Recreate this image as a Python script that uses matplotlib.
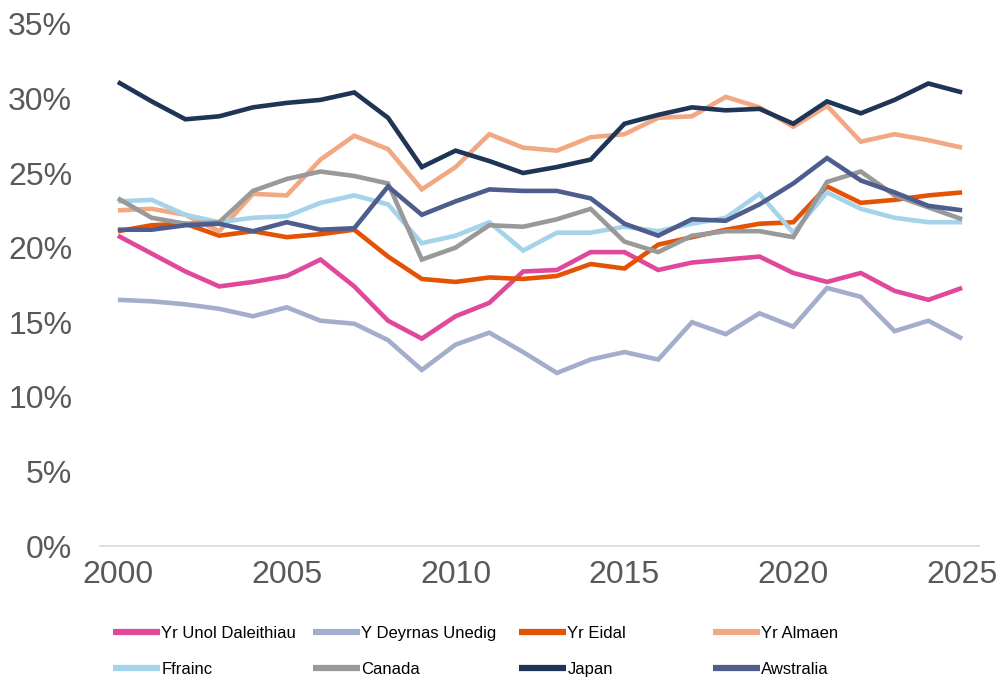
import matplotlib
matplotlib.use("Agg")
import matplotlib.pyplot as plt
from matplotlib.ticker import FuncFormatter

years = list(range(2000, 2026))

series_names = [
    "Yr Unol Daleithiau", "Y Deyrnas Unedig", "Yr Eidal", "Yr Almaen",
    "Ffrainc", "Canada", "Japan", "Awstralia",
]

usa = [20.8, 19.6, 18.4, 17.4, 17.7, 18.1, 19.2, 17.4, 15.1, 13.9, 15.4, 16.3, 18.4,
       18.5, 19.7, 19.7, 18.5, 19.0, 19.2, 19.4, 18.3, 17.7, 18.3, 17.1, 16.5, 17.3]
uk = [16.5, 16.4, 16.2, 15.9, 15.4, 16.0, 15.1, 14.9, 13.8, 11.8, 13.5, 14.3, 13.0,
      11.6, 12.5, 13.0, 12.5, 15.0, 14.2, 15.6, 14.7, 17.3, 16.7, 14.4, 15.1, 13.9]
italy = [21.1, 21.5, 21.6, 20.8, 21.1, 20.7, 20.9, 21.2, 19.4, 17.9, 17.7, 18.0, 17.9,
         18.1, 18.9, 18.6, 20.2, 20.7, 21.2, 21.6, 21.7, 24.1, 23.0, 23.2, 23.5, 23.7]
germany = [22.5, 22.6, 22.2, 21.1, 23.6, 23.5, 25.9, 27.5, 26.6, 23.9, 25.4, 27.6, 26.7,
           26.5, 27.4, 27.6, 28.7, 28.8, 30.1, 29.4, 28.1, 29.5, 27.1, 27.6, 27.2, 26.7]
france = [23.1, 23.2, 22.2, 21.7, 22.0, 22.1, 23.0, 23.5, 22.9, 20.3, 20.8, 21.7, 19.8,
          21.0, 21.0, 21.4, 21.1, 21.6, 22.0, 23.6, 21.0, 23.7, 22.6, 22.0, 21.7, 21.7]
canada = [23.3, 22.0, 21.6, 21.7, 23.8, 24.6, 25.1, 24.8, 24.3, 19.2, 20.0, 21.5, 21.4,
          21.9, 22.6, 20.4, 19.7, 20.8, 21.1, 21.1, 20.7, 24.4, 25.1, 23.5, 22.7, 21.9]
japan = [31.1, 29.8, 28.6, 28.8, 29.4, 29.7, 29.9, 30.4, 28.7, 25.4, 26.5, 25.8, 25.0,
         25.4, 25.9, 28.3, 28.9, 29.4, 29.2, 29.3, 28.3, 29.8, 29.0, 29.9, 31.0, 30.4]
australia = [21.2, 21.2, 21.5, 21.6, 21.1, 21.7, 21.2, 21.3, 24.1, 22.2, 23.1, 23.9, 23.8,
             23.8, 23.3, 21.6, 20.8, 21.9, 21.8, 22.9, 24.3, 26.0, 24.5, 23.7, 22.8, 22.5]

colors = ["#E0489C", "#A3ADCC", "#E35205", "#F2A983",
          "#A5D3EA", "#999999", "#1E3556", "#4E5D8C"]

all_values = [usa, uk, italy, germany, france, canada, japan, australia]

plt.rcParams["font.family"] = ["Liberation Sans", "DejaVu Sans"]

fig = plt.figure(figsize=(10, 6.8), dpi=100)
ax = fig.add_axes([0.100, 0.197, 0.879, 0.768])

lines = []
for name, vals, col in zip(series_names, all_values, colors):
    ln, = ax.plot(years, vals, color=col, linewidth=3.3, label=name,
                  solid_joinstyle="miter", solid_capstyle="butt")
    lines.append(ln)

ax.set_xlim(1999.47, 2025.5)
ax.set_ylim(0, 35)
ax.set_xticks(range(2000, 2026, 5))
ax.set_yticks(range(0, 36, 5))
ax.yaxis.set_major_formatter(FuncFormatter(lambda v, p: f"{int(v)}%"))
ax.tick_params(axis="both", length=0, labelsize=23, labelcolor="#595959")
ax.tick_params(axis="y", pad=20)
ax.tick_params(axis="x", pad=10)
for s in ax.spines.values():
    s.set_visible(False)
ax.spines["bottom"].set_visible(True)
ax.spines["bottom"].set_color("#D9D9D9")
ax.spines["bottom"].set_linewidth(1.2)

# legend: 4 columns of 2 rows, fixed column positions
col_x = [0.113, 0.313, 0.519, 0.713]
for c, x0 in enumerate(col_x):
    handles = [lines[c], lines[c + 4]]
    leg = fig.legend(handles=handles, loc="center left", bbox_to_anchor=(x0, 0.042),
                     frameon=False, fontsize=12, handlelength=2.8, handletextpad=0.1,
                     labelspacing=1.3, borderpad=0, borderaxespad=0)
    for line in leg.get_lines():
        line.set_linewidth(4.5)

fig.savefig("out.png", dpi=100)
